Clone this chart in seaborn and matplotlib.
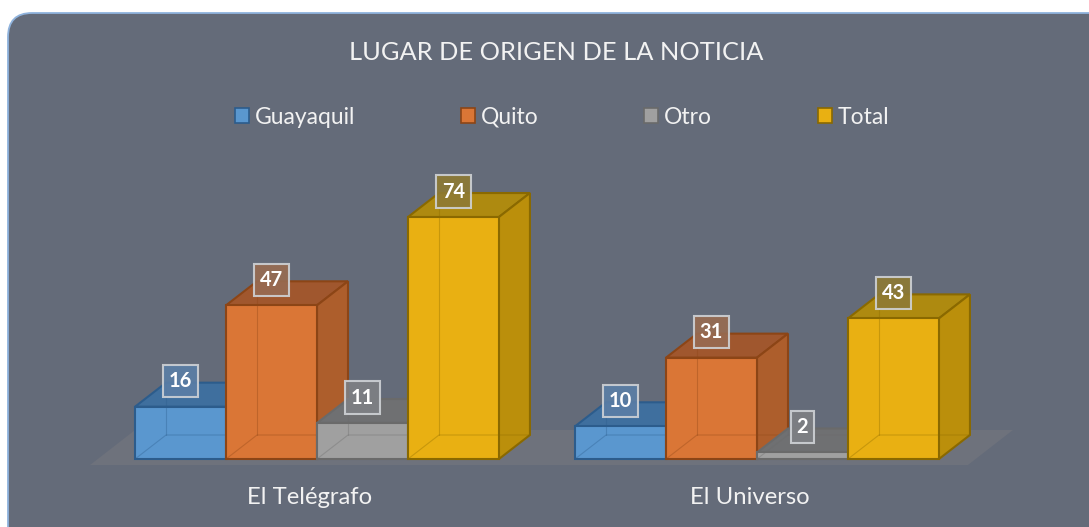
import matplotlib
matplotlib.use("Agg")
import matplotlib.pyplot as plt
import seaborn as sns
import pandas as pd
from matplotlib.patches import Polygon, FancyBboxPatch, Patch
from matplotlib.transforms import IdentityTransform

# ---- data ----
periodicos = ["El Telégrafo", "El Universo"]
origenes = ["Guayaquil", "Quito", "Otro", "Total"]
guayaquil = [16, 10]
quito = [47, 31]
otro = [11, 2]
total = [74, 43]
title = "LUGAR DE ORIGEN DE LA NOTICIA"

series = {"Guayaquil": guayaquil, "Quito": quito, "Otro": otro, "Total": total}
rows = []
for o in origenes:
    for p, v in zip(periodicos, series[o]):
        rows.append({"periodico": p, "origen": o, "valor": v})
df = pd.DataFrame(rows)

# ---- styles ----
W, H = 1089, 527
BG = "#646b79"
front_c = {"Guayaquil": "#5a97cf", "Quito": "#da7636", "Otro": "#a0a0a0", "Total": "#e9b012"}
top_c = {"Guayaquil": "#3f6f9e", "Quito": "#a0572e", "Otro": "#6f7072", "Total": "#ae8a10"}
side_c = {"Guayaquil": "#467fb3", "Quito": "#ad5e2c", "Otro": "#858585", "Total": "#bb8f0b"}
edge_c = {"Guayaquil": "#2c5c8c", "Quito": "#8c4516", "Otro": "#6a6a6a", "Total": "#8a6900"}
lab_c = {"Guayaquil": "#5b7ea6", "Quito": "#986b52", "Otro": "#7e8084", "Total": "#8e7a34"}
TXT = "#f2f2f2"

sns.set_theme(style="white")
plt.rcParams["font.family"] = ["Lato", "DejaVu Sans"]

fig = plt.figure(figsize=(W / 100, H / 100), dpi=100)
fig.patch.set_facecolor("white")

# rounded chart background
bg = FancyBboxPatch((8, -30), 1120, H - 13 + 30, boxstyle="round,pad=0,rounding_size=24",
                    transform=IdentityTransform(), facecolor=BG, edgecolor="#8fb3dd",
                    linewidth=1.3, zorder=-10)
fig.patches.append(bg)

ax = fig.add_axes([0, 0, 1, 1])
ax.set_facecolor("none")
ax.set_zorder(1)

sns.barplot(data=df, x="periodico", y="valor", hue="origen", order=periodicos,
            hue_order=origenes, palette=front_c, width=0.827, saturation=1,
            legend=False, ax=ax)

# layout: group centres at 317 px and 757 px, baseline at 459 px
px_per_x = 440.0
px_per_y = 3.27
x0 = -317 / px_per_x
ax.set_xlim(x0, x0 + W / px_per_x)
y0 = -(H - 459) / px_per_y
ax.set_ylim(y0, y0 + H / px_per_y)
ax.axis("off")
sx = 1 / px_per_x
sy = 1 / px_per_y

DX, DY = 31 * sx, 24 * sy

# floor
bars = [p for p in ax.patches if p.get_width() > 0]
xmin = min(p.get_x() for p in bars)
xmax = max(p.get_x() + p.get_width() for p in bars)
fy = -6 * sy
floor = Polygon([(xmin - 45 * sx, fy), (xmax + 29 * sx, fy),
                 (xmax + 74 * sx, fy + 35 * sy), (xmin, fy + 35 * sy)],
                closed=True, facecolor="#6e727c", edgecolor="none", zorder=1)
ax.add_patch(floor)

# map patches to series
order_hue = []
for o in origenes:
    for p in periodicos:
        order_hue.append(o)
info = list(zip(bars, order_hue))
info.sort(key=lambda t: t[0].get_x())

for i, (p, o) in enumerate(info):
    z = 3 + i * 0.1
    xl = p.get_x()
    w = p.get_width()
    h = p.get_height()
    xr = xl + w
    p.set_facecolor(front_c[o])
    p.set_edgecolor(edge_c[o])
    p.set_linewidth(1.5)
    p.set_zorder(z + 0.05)
    # hidden back edges (semi-transparent look)
    ax.plot([xl, xl + DX, xr + DX], [0, DY, DY], color=edge_c[o], lw=0.8, alpha=0.35, zorder=z + 0.06)
    ax.plot([xl + DX, xl + DX], [DY, h + DY], color=edge_c[o], lw=0.8, alpha=0.35, zorder=z + 0.06)
    top = Polygon([(xl, h), (xr, h), (xr + DX, h + DY), (xl + DX, h + DY)], closed=True,
                  facecolor=top_c[o], edgecolor=edge_c[o], lw=1.5, zorder=z)
    side = Polygon([(xr, 0), (xr + DX, DY), (xr + DX, h + DY), (xr, h)], closed=True,
                   facecolor=side_c[o], edgecolor=edge_c[o], lw=1.5, zorder=z)
    ax.add_patch(top)
    ax.add_patch(side)
    ax.text(xl + w / 2, h + 25.5 * sy, f"{int(h)}", ha="center", va="center",
            fontsize=14.5, fontweight="bold", color="white", zorder=20,
            bbox=dict(boxstyle="square,pad=0.3", facecolor=lab_c[o], alpha=0.9,
                      edgecolor="#cfd2d6", linewidth=1.5))

# category labels
for i, name in enumerate(periodicos):
    ax.text(i - 7 * sx, -39 * sy, name, ha="center", va="center", fontsize=17.2, color=TXT)

fig.text(556 / W, 1 - 53 / H, title, ha="center", va="center", fontsize=18.3, color=TXT)

handles = [Patch(facecolor=front_c[o], edgecolor=edge_c[o], linewidth=1.2) for o in origenes]
fig.legend(handles, origenes, loc="center", bbox_to_anchor=(562 / W, 1 - 117 / H), ncol=4,
           frameon=False, fontsize=16.5, labelcolor=TXT, handlelength=0.62, handleheight=0.62,
           handletextpad=0.26, columnspacing=4.6)

fig.savefig("out.png", dpi=100, facecolor="white")
